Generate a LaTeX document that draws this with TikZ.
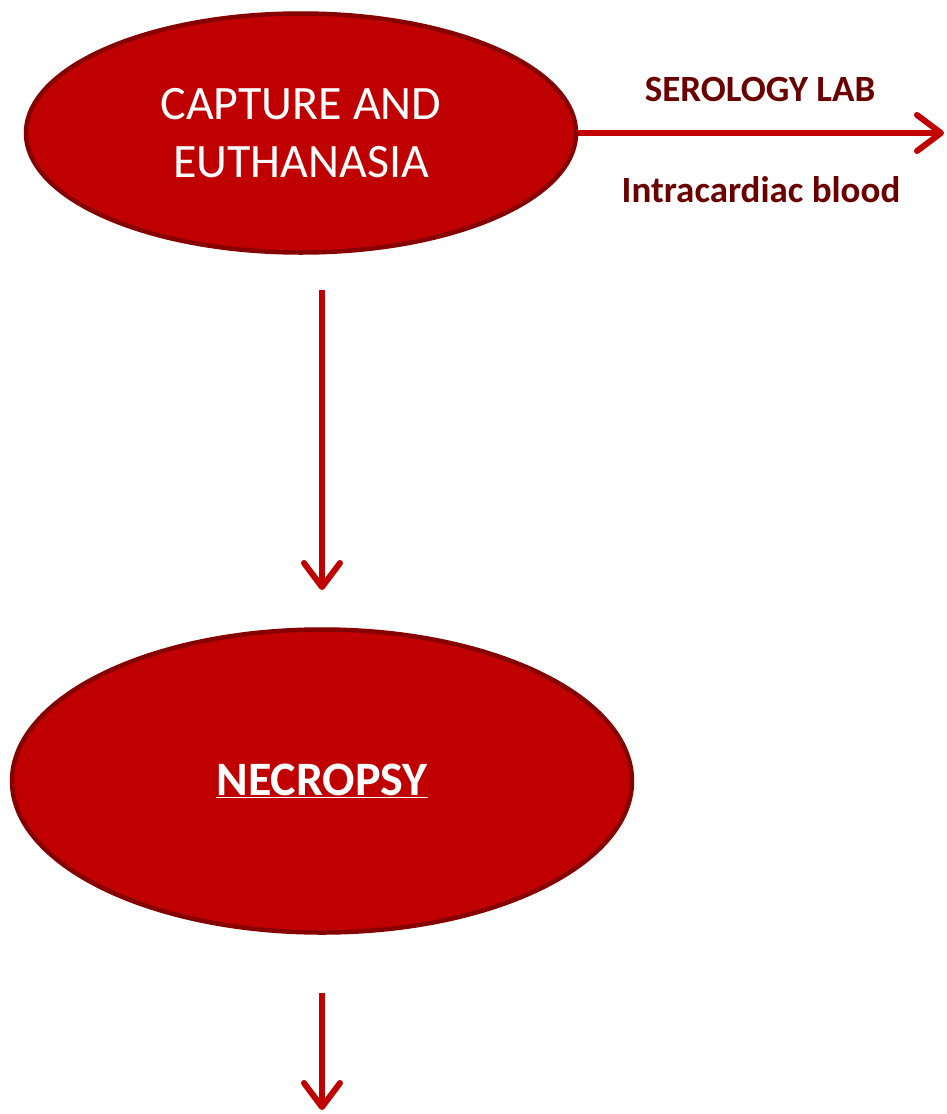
\documentclass[tikz,border=0pt]{standalone}
\usepackage{fontspec}
\setmainfont{Carlito}
\usetikzlibrary{positioning,shapes.geometric,arrows.meta}
\definecolor{boxred}{HTML}{C00000}
\definecolor{rimred}{HTML}{860000}
\definecolor{labred}{HTML}{6A0000}
\begin{document}
\begin{tikzpicture}[x=1pt,y=-1pt,
blob/.style ={ellipse, fill=boxred, draw=rimred, line width=4.5pt,
  text=white, align=center, font=\fontsize{48}{58}\selectfont},
flow/.style ={draw=boxred, line width=6pt,
  -{Straight Barb[length=24pt,width=36pt,round]}},
lab/.style ={text=labred, font=\fontsize{37}{42}\selectfont\bfseries}]
\useasboundingbox (0,0) rectangle (947,1114);
\node[blob, minimum width=550pt, minimum height=239pt] (cap) at (301,133) {CAPTURE AND\\EUTHANASIA};
\node[blob, minimum width=620pt, minimum height=303pt] (necro) at (322,781) {\textbf{\underline{NECROPSY}}};
\coordinate (lab end) at (944,133);
\coordinate (down1) at (322,290);
\coordinate (down1 end) at (322,590);
\coordinate (down2) at (322,993);
\coordinate (down2 end) at (322,1110);
\draw[flow] (cap.east) -- (lab end);
\node[lab] (sero) at (760,89) {SEROLOGY LAB};
\node[lab] (blood) at (761,190) {Intracardiac blood};
\draw[flow] (down1) -- (down1 end);
\draw[flow] (down2) -- (down2 end);
\end{tikzpicture}
\end{document}
